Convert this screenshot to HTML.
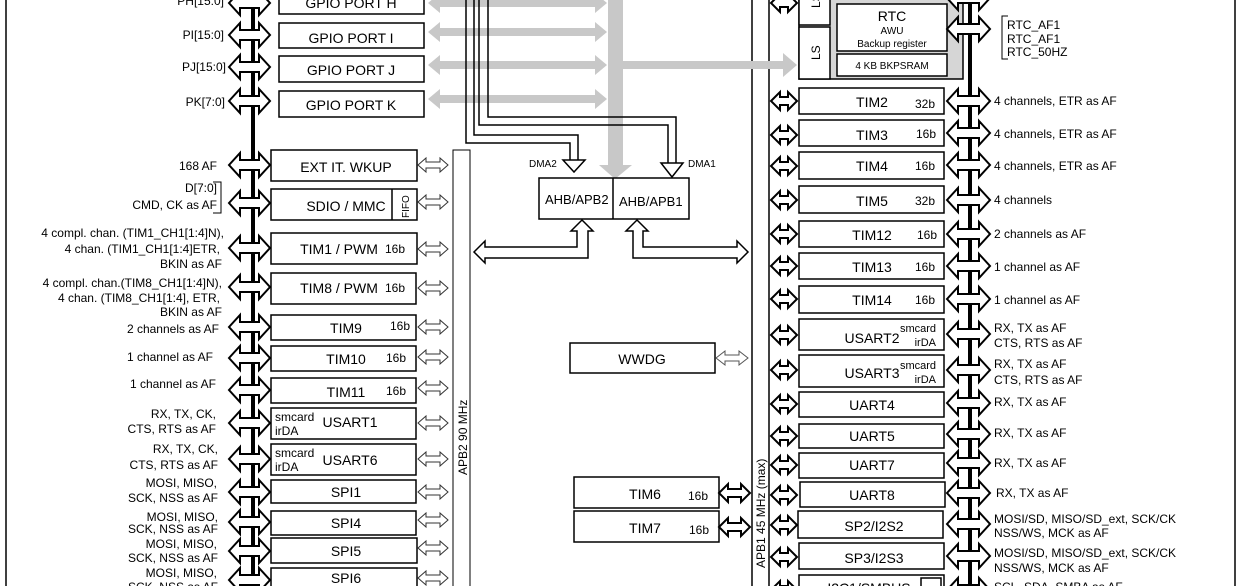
<!DOCTYPE html>
<html><head><meta charset="utf-8"><style>
html,body{margin:0;padding:0;background:#fff}
svg{display:block;font-family:"Liberation Sans",Arial,sans-serif}
</style></head><body>
<svg width="1242" height="586" viewBox="0 0 1242 586" xmlns="http://www.w3.org/2000/svg">
<defs>
<polygon id="bigA" points="229,0 240,-12 240,-5 259,-5 259,-12 270,0 259,12 259,5 240,5 240,12" fill="#fff" stroke="#000" stroke-width="2"/>
<polygon id="rA" points="947,0 958,-12 958,-5 979,-5 979,-12 990,0 979,12 979,5 958,5 958,12" fill="#fff" stroke="#000" stroke-width="2"/>
<polygon id="smA" points="418,0 426,-7 426,-3 440,-3 440,-7 448,0 440,7 440,3 426,3 426,7" fill="#fff" stroke="#333" stroke-width="1"/>
<polygon id="apA" points="771,0 780,-9 780,-4 788,-4 788,-9 797,0 788,9 788,4 780,4 780,9" fill="#fff" stroke="#000" stroke-width="2"/>
<polygon id="gA" points="428,0 440,-10 440,-4 595,-4 595,-10 607,0 595,10 595,4 440,4 440,10" fill="#c8c8c8"/>
</defs>
<g fill="none" stroke="#000">
<!-- frame -->
<line x1="6" y1="0" x2="6" y2="586" stroke-width="1.5"/>
<line x1="1235" y1="0" x2="1235" y2="586" stroke-width="1.5"/>
<!-- spines -->
<line x1="253" y1="0" x2="253" y2="586" stroke-width="4"/>
<line x1="970" y1="0" x2="970" y2="586" stroke-width="4"/>
<!-- bus bars -->
<rect x="453" y="150" width="17" height="440" stroke-width="1"/>
<rect x="752" y="-2" width="17" height="592" stroke-width="1.5"/>
</g>
<!-- gray bus -->
<rect x="608" y="0" width="15" height="166" fill="#c8c8c8"/>
<polygon points="599,165 632,165 615,179" fill="#c8c8c8"/>
<use href="#gA" y="3"/><use href="#gA" y="32"/><use href="#gA" y="65"/><use href="#gA" y="99"/>
<rect x="622" y="61" width="163" height="8" fill="#c8c8c8"/>
<polygon points="783,53 797,65 783,77" fill="#c8c8c8"/>
<!-- DMA paths -->
<g fill="none" stroke="#000" stroke-width="1.5">
<polyline points="466,0 466,143 570,143 570,160"/>
<polyline points="474,0 474,135 578,135 578,160"/>
<polyline points="479,0 479,125 668,125 668,163"/>
<polyline points="488,0 488,117 676,117 676,163"/>
</g>
<polygon points="563,160 585,160 574,172" fill="#fff" stroke="#000" stroke-width="1.5"/>
<polygon points="661,163 683,163 672,177" fill="#fff" stroke="#000" stroke-width="1.5"/>
<text x="529" y="167" font-size="10">DMA2</text>
<text x="688" y="167" font-size="10">DMA1</text>
<rect x="539" y="178" width="150" height="41" fill="#fff" stroke="#000" stroke-width="1.5"/>
<line x1="613" y1="178" x2="613" y2="219" stroke="#000" stroke-width="1.5"/>
<text x="545" y="204" font-size="13">AHB/APB2</text>
<text x="619" y="206" font-size="13">AHB/APB1</text>
<!-- lower connectors -->
<polygon points="582,220 593,231 588,231 588,258 485,258 485,263 474,252 485,241 485,247 577,247 577,231 571,231" fill="#fff" stroke="#000" stroke-width="1.5"/>
<polygon points="637,220 648,231 643,231 643,247 737,247 737,241 748,252 737,263 737,258 633,258 633,231 626,231" fill="#fff" stroke="#000" stroke-width="1.5"/>
<!-- top middle rotated bits -->
<text transform="translate(692,0) rotate(-90)" font-size="11">H</text>
<text transform="translate(710,0) rotate(-90)" font-size="11">P</text>
<text transform="translate(467,475) rotate(-90)" font-size="12">APB2 90 MHz</text>
<text transform="translate(765,568) rotate(-90)" font-size="12">APB1 45 MHz (max)</text>

<!-- LEFT: GPIO -->
<g fill="#fff" stroke="#000" stroke-width="1.5">
<rect x="279" y="-12" width="145" height="26"/>
<rect x="279" y="23" width="145" height="25"/>
<rect x="279" y="56" width="145" height="26"/>
<rect x="279" y="91" width="145" height="26"/>
<rect x="271" y="150" width="146" height="31"/>
<rect x="271" y="189" width="146" height="31"/>
<rect x="271" y="233" width="146" height="31"/>
<rect x="271" y="273" width="145" height="31"/>
<rect x="271" y="315" width="145" height="25"/>
<rect x="271" y="346" width="145" height="25"/>
<rect x="271" y="378" width="145" height="25"/>
<rect x="271" y="408" width="145" height="31"/>
<rect x="271" y="444" width="145" height="31"/>
<rect x="271" y="480" width="145" height="23"/>
<rect x="271" y="511" width="145" height="24"/>
<rect x="271" y="538" width="146" height="25"/>
<rect x="271" y="568" width="146" height="30"/>
</g>
<line x1="392" y1="189" x2="392" y2="220" stroke="#000" stroke-width="1.5"/>
<g>
<use href="#bigA" y="3"/><use href="#bigA" y="35"/><use href="#bigA" y="67"/><use href="#bigA" y="101"/>
<use href="#bigA" y="165"/><use href="#bigA" y="203"/><use href="#bigA" y="248"/><use href="#bigA" y="287"/>
<use href="#bigA" y="327"/><use href="#bigA" y="358"/><use href="#bigA" y="390"/><use href="#bigA" y="423"/>
<use href="#bigA" y="459"/><use href="#bigA" y="492"/><use href="#bigA" y="522"/><use href="#bigA" y="551"/><use href="#bigA" y="580"/>
<use href="#smA" y="165"/><use href="#smA" y="202"/><use href="#smA" y="249"/><use href="#smA" y="288"/>
<use href="#smA" y="327"/><use href="#smA" y="357"/><use href="#smA" y="388"/><use href="#smA" y="423"/>
<use href="#smA" y="459"/><use href="#smA" y="492"/><use href="#smA" y="520"/><use href="#smA" y="548"/><use href="#smA" y="578"/>
</g>
<g font-size="14" text-anchor="middle">
<text x="351" y="8">GPIO PORT H</text>
<text x="351" y="43">GPIO PORT I</text>
<text x="351" y="75">GPIO PORT J</text>
<text x="351" y="110">GPIO PORT K</text>
<text x="346" y="172">EXT IT. WKUP</text>
<text x="346" y="211">SDIO / MMC</text>
<text x="339" y="254">TIM1 / PWM</text>
<text x="339" y="293">TIM8 / PWM</text>
<text x="346" y="333">TIM9</text>
<text x="346" y="364">TIM10</text>
<text x="346" y="397">TIM11</text>
<text x="350" y="427">USART1</text>
<text x="350" y="465">USART6</text>
<text x="346" y="497">SPI1</text>
<text x="346" y="528">SPI4</text>
<text x="346" y="556">SPI5</text>
<text x="346" y="583">SPI6</text>
</g>
<text transform="translate(409,218) rotate(-90)" font-size="10">FIFO</text>
<g font-size="12">
<text x="385" y="253">16b</text><text x="385" y="292">16b</text>
<text x="390" y="330">16b</text><text x="386" y="362">16b</text><text x="386" y="395">16b</text>
<text x="275" y="421">smcard</text><text x="275" y="435">irDA</text>
<text x="275" y="457">smcard</text><text x="275" y="471">irDA</text>
</g>
<g font-size="12" text-anchor="end">
<text x="224" y="5">PH[15:0]</text>
<text x="224" y="39">PI[15:0]</text>
<text x="226" y="71">PJ[15:0]</text>
<text x="225" y="106">PK[7:0]</text>
<text x="217" y="170">168 AF</text>
<text x="217" y="192">D[7:0]</text>
<text x="217" y="209">CMD, CK as AF</text>
<text x="224" y="237">4 compl. chan. (TIM1_CH1[1:4]N),</text>
<text x="220" y="253">4 chan. (TIM1_CH1[1:4]ETR,</text>
<text x="222" y="268">BKIN as AF</text>
<text x="222" y="287">4 compl. chan.(TIM8_CH1[1:4]N),</text>
<text x="220" y="302">4 chan. (TIM8_CH1[1:4], ETR,</text>
<text x="222" y="316">BKIN as AF</text>
<text x="219" y="333">2 channels as AF</text>
<text x="213" y="361">1 channel as AF</text>
<text x="216" y="388">1 channel as AF</text>
<text x="216" y="418">RX, TX, CK,</text>
<text x="216" y="433">CTS, RTS as AF</text>
<text x="218" y="453">RX, TX, CK,</text>
<text x="218" y="469">CTS, RTS as AF</text>
<text x="217" y="487">MOSI, MISO,</text>
<text x="218" y="502">SCK, NSS as AF</text>
<text x="218" y="521">MOSI, MISO,</text>
<text x="218" y="533">SCK, NSS as AF</text>
<text x="217" y="548">MOSI, MISO,</text>
<text x="218" y="562">SCK, NSS as AF</text>
<text x="217" y="577">MOSI, MISO,</text>
<text x="218" y="591">SCK, NSS as AF</text>
</g>
<polyline points="213,182 221,182 221,213 213,213" fill="none" stroke="#000" stroke-width="1"/>

<!-- RIGHT -->
<rect x="799" y="-5" width="164" height="84" fill="#d6d6d6" stroke="#000" stroke-width="1.5"/>
<rect x="799" y="-5" width="31" height="30" fill="#fff" stroke="#000" stroke-width="1.5"/>
<rect x="799" y="27" width="31" height="52" fill="#fff" stroke="#000" stroke-width="1.5"/>
<rect x="837" y="4" width="110" height="47" fill="#fff" stroke="#000" stroke-width="1.5"/>
<rect x="837" y="54" width="110" height="22" fill="#fff" stroke="#000" stroke-width="1.5"/>
<text transform="translate(820,60) rotate(-90)" font-size="12">LS</text>
<text transform="translate(820,8) rotate(-90)" font-size="12">LS</text>
<text x="892" y="21" font-size="14" text-anchor="middle">RTC</text>
<text x="892" y="34" font-size="10" text-anchor="middle">AWU</text>
<text x="892" y="47" font-size="10" text-anchor="middle">Backup register</text>
<text x="892" y="69" font-size="10" text-anchor="middle">4 KB BKPSRAM</text>
<use href="#rA" y="29"/>
<use href="#rA" y="-2"/>
<polyline points="1008,16 1002,16 1002,59 1008,59" fill="none" stroke="#000" stroke-width="1"/>
<g font-size="12"><text x="1007" y="29">RTC_AF1</text><text x="1007" y="43">RTC_AF1</text><text x="1007" y="56">RTC_50HZ</text></g>

<g fill="#fff" stroke="#000" stroke-width="1.5">
<rect x="799" y="88" width="145" height="26"/>
<rect x="799" y="120" width="145" height="26"/>
<rect x="799" y="152" width="145" height="27"/>
<rect x="799" y="186" width="145" height="27"/>
<rect x="799" y="221" width="145" height="26"/>
<rect x="799" y="253" width="145" height="26"/>
<rect x="799" y="286" width="145" height="27"/>
<rect x="799" y="319" width="145" height="31"/>
<rect x="799" y="355" width="145" height="32"/>
<rect x="799" y="392" width="145" height="25"/>
<rect x="799" y="424" width="145" height="24"/>
<rect x="799" y="453" width="145" height="25"/>
<rect x="800" y="482" width="145" height="25"/>
<rect x="798" y="511" width="145" height="27"/>
<rect x="799" y="543" width="145" height="26"/>
<rect x="799" y="575" width="145" height="26"/>
<rect x="570" y="343" width="145" height="30"/>
<rect x="574" y="477" width="145" height="31"/>
<rect x="574" y="511" width="145" height="31"/>
<rect x="921" y="578" width="20" height="16"/>
</g>
<g>
<use href="#apA" y="3"/><use href="#apA" y="101"/><use href="#apA" y="135"/><use href="#apA" y="166"/><use href="#apA" y="200"/>
<use href="#apA" y="234"/><use href="#apA" y="266"/><use href="#apA" y="299"/><use href="#apA" y="335"/>
<use href="#apA" y="370"/><use href="#apA" y="404"/><use href="#apA" y="436"/><use href="#apA" y="465"/>
<use href="#apA" y="495"/><use href="#apA" y="525"/><use href="#apA" y="557"/><use href="#apA" y="590"/>
<use href="#rA" y="101"/><use href="#rA" y="133"/><use href="#rA" y="165"/><use href="#rA" y="200"/>
<use href="#rA" y="234"/><use href="#rA" y="266"/><use href="#rA" y="299"/><use href="#rA" y="334"/>
<use href="#rA" y="370"/><use href="#rA" y="403"/><use href="#rA" y="434"/><use href="#rA" y="463"/>
<use href="#rA" y="493"/><use href="#rA" y="524"/><use href="#rA" y="556"/><use href="#rA" y="590"/>
</g>
<polygon points="716,358 725,351 725,355 739,355 739,351 748,358 739,365 739,361 725,361 725,365" fill="#fff" stroke="#555" stroke-width="1"/>
<polygon points="719,493 728,484 728,489 741,489 741,484 750,493 741,502 741,497 728,497 728,502" fill="#fff" stroke="#000" stroke-width="2"/>
<polygon points="719,527 728,518 728,523 741,523 741,518 750,527 741,536 741,531 728,531 728,536" fill="#fff" stroke="#000" stroke-width="2"/>
<g font-size="14" text-anchor="middle">
<text x="872" y="107">TIM2</text><text x="872" y="140">TIM3</text><text x="872" y="171">TIM4</text>
<text x="872" y="206">TIM5</text><text x="872" y="240">TIM12</text><text x="872" y="272">TIM13</text>
<text x="872" y="305">TIM14</text><text x="872" y="343">USART2</text><text x="872" y="378">USART3</text>
<text x="872" y="410">UART4</text><text x="872" y="441">UART5</text><text x="872" y="470">UART7</text>
<text x="872" y="500">UART8</text><text x="874" y="531">SP2/I2S2</text><text x="874" y="563">SP3/I2S3</text>
<text x="869" y="593">I2C1/SMBUS</text>
<text x="642" y="364">WWDG</text><text x="645" y="499">TIM6</text><text x="645" y="533">TIM7</text>
</g>
<g font-size="12">
<text x="915" y="108">32b</text><text x="916" y="138">16b</text><text x="915" y="170">16b</text>
<text x="915" y="205">32b</text><text x="917" y="239">16b</text><text x="915" y="271">16b</text><text x="915" y="304">16b</text>
<text x="688" y="500">16b</text><text x="689" y="534">16b</text>
</g>
<g font-size="11" text-anchor="end">
<text x="936" y="332">smcard</text><text x="936" y="346">irDA</text>
<text x="936" y="369">smcard</text><text x="936" y="383">irDA</text>
</g>
<g font-size="12">
<text x="994" y="105">4 channels, ETR as AF</text>
<text x="994" y="138">4 channels, ETR as AF</text>
<text x="994" y="170">4 channels, ETR as AF</text>
<text x="994" y="204">4 channels</text>
<text x="994" y="238">2 channels as AF</text>
<text x="994" y="271">1 channel as AF</text>
<text x="994" y="304">1 channel as AF</text>
<text x="994" y="332">RX, TX as AF</text>
<text x="994" y="347">CTS, RTS as AF</text>
<text x="994" y="368">RX, TX as AF</text>
<text x="994" y="384">CTS, RTS as AF</text>
<text x="994" y="406">RX, TX as AF</text>
<text x="994" y="437">RX, TX as AF</text>
<text x="994" y="467">RX, TX as AF</text>
<text x="996" y="497">RX, TX as AF</text>
<text x="994" y="523">MOSI/SD, MISO/SD_ext, SCK/CK</text>
<text x="994" y="537">NSS/WS, MCK as AF</text>
<text x="994" y="557">MOSI/SD, MISO/SD_ext, SCK/CK</text>
<text x="994" y="572">NSS/WS, MCK as AF</text>
<text x="994" y="591">SCL, SDA, SMBA as AF</text>
</g>
</svg>
</body></html>
